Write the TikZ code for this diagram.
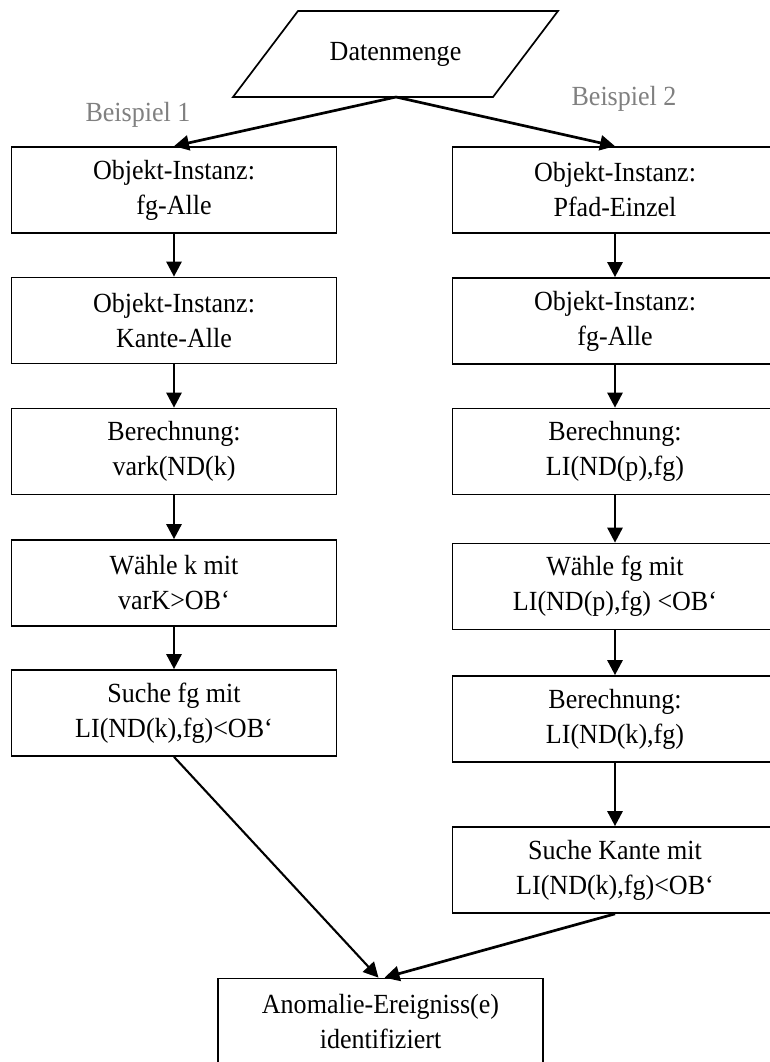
\documentclass[tikz,border=0pt]{standalone}
\usepackage{fontspec}
\setmainfont[FakeStretch=0.94]{Liberation Serif}
\usetikzlibrary{arrows.meta}

\newcommand{\flowfont}{\fontsize{27.7}{35}\selectfont}

\tikzset{
  stepbox/.style={draw=black, line width=1.7pt, fill=white, align=center,
    minimum width=325pt, minimum height=86pt, inner sep=0pt,
    font=\flowfont},
  flow/.style={line width=2.7pt, -{Triangle[length=15pt,width=15pt]}},
  thinflow/.style={line width=2.1pt, -{Triangle[length=15pt,width=15pt]}},
  example/.style={text=black!50, font=\flowfont}
}

\begin{document}
\begin{tikzpicture}[x=1pt, y=-1pt]
  \clip (0,0) rectangle (770,1062);
  \fill[white] (0,0) rectangle (770,1062);

  % input parallelogram
  \draw[line width=1.7pt] (298,11) -- (558,11) -- (493,97) -- (233,97) -- cycle;
  \node[font=\flowfont] (data) at (395.5,54) {Datenmenge};
  \coordinate (dsrc) at (396,97);

  % example labels
  \node[example] (ex1) at (138,115) {Beispiel 1};
  \node[example] (ex2) at (624,99) {Beispiel 2};

  % left column
  \node[stepbox] (l1) at (174,190)   {Objekt-Instanz:\\fg-Alle};
  \node[stepbox] (l2) at (174,320.5) {Objekt-Instanz:\\Kante-Alle};
  \node[stepbox] (l3) at (174,451.5) {Berechnung:\\vark(ND(k)};
  \node[stepbox] (l4) at (174,583)   {Wähle k mit\\varK>OB‘};
  \node[stepbox] (l5) at (174,713)   {Suche fg mit\\LI(ND(k),fg)<OB‘};

  % right column
  \node[stepbox] (r1) at (615,190)   {Objekt-Instanz:\\Pfad-Einzel};
  \node[stepbox] (r2) at (615,321)   {Objekt-Instanz:\\fg-Alle};
  \node[stepbox] (r3) at (615,451.5) {Berechnung:\\LI(ND(p),fg)};
  \node[stepbox] (r4) at (615,586.5) {Wähle fg mit\\LI(ND(p),fg) <OB‘};
  \node[stepbox] (r5) at (615,719)   {Berechnung:\\LI(ND(k),fg)};
  \node[stepbox] (r6) at (615,870)   {Suche Kante mit\\LI(ND(k),fg)<OB‘};

  % result
  \node[stepbox] (res) at (380.5,1021.5) {Anomalie-Ereigniss(e)\\identifiziert};

  % connectors
  \draw[flow] (dsrc) -- (l1.north);
  \draw[flow] (dsrc) -- (r1.north);
  \draw[flow] (l1) -- (l2);
  \draw[flow] (l2) -- (l3);
  \draw[flow] (l3) -- (l4);
  \draw[flow] (l4) -- (l5);
  \draw[flow] (r1) -- (r2);
  \draw[flow] (r2) -- (r3);
  \draw[flow] (r3) -- (r4);
  \draw[flow] (r4) -- (r5);
  \draw[flow] (r5) -- (r6);
  \draw[thinflow] (l5.south) -- ([xshift=-2pt]res.north);
  \draw[flow] (r6.south) -- ([xshift=4pt]res.north);
\end{tikzpicture}
\end{document}
